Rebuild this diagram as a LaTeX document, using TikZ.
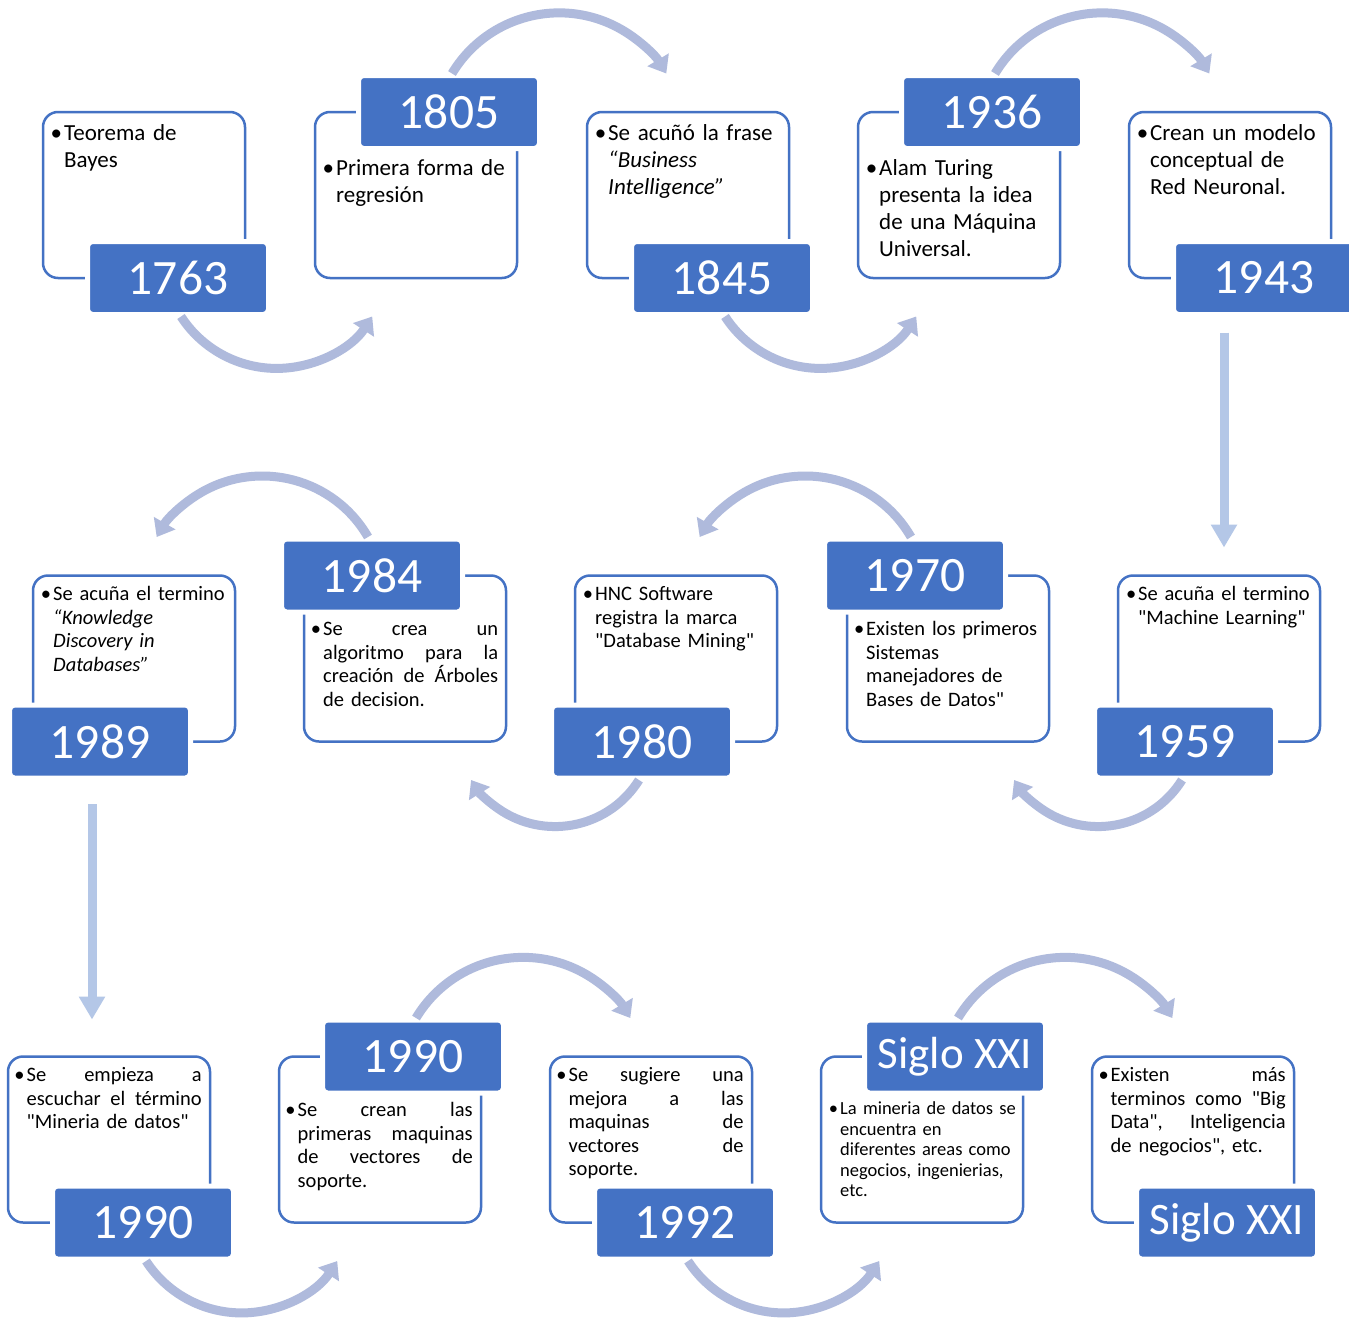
\documentclass[tikz,border=0pt]{standalone}
\usepackage{fontspec}
\setmainfont{Carlito}[Ligatures=TeXOff]
\usetikzlibrary{arrows.meta,calc}

\definecolor{azul}{HTML}{4472C4}
\definecolor{arco}{HTML}{AFBADC}
\definecolor{celeste}{HTML}{B4C7E7}

% viñeta y linea justificada
\newcommand{\bul}{\strut\llap{\textbullet\hspace{2pt}}}
\newcommand{\jl}[1]{\makebox[175pt][s]{\spaceskip=\fontdimen2\font plus 1fil\relax #1}}

\begin{document}
\begin{tikzpicture}[x=1pt,y=-1pt,
    caja/.style={draw=azul, line width=2.5pt, rounded corners=15pt, minimum width=202pt, minimum height=166pt, inner sep=0pt, outer sep=0pt},
    anio/.style={fill=azul, draw=white, line width=5pt, rounded corners=5pt, minimum width=181pt, minimum height=73pt, inner sep=0pt, outer sep=0pt, text=white, font=\fontsize{49.5}{52}\selectfont},
    txt/.style={anchor=north west, inner sep=0pt, text width=186pt, align=left},
    uno/.style={txt, font=\fontsize{23}{27}\selectfont},
    dos/.style={txt, font=\fontsize{20.5}{23.5}\selectfont},
    flujo/.style={draw=arco, line width=9pt, -{Triangle[width=24pt,length=16pt]}},
    bajada/.style={draw=celeste, line width=9pt, -{Triangle[width=25pt,length=23pt]}}]

    \path[use as bounding box, fill=white] (0,0) rectangle (1349,1320);

    % Fila 1
    \node[caja] (b1763) at (144,195) {};
    \node[caja] (b1805) at (416,195) {};
    \node[caja] (b1845) at (688,195) {};
    \node[caja] (b1936) at (959,195) {};
    \node[caja] (b1943) at (1230,195) {};
    \node[anio] (y1763) at ([xshift=34]b1763.south) {1763};
    \node[anio] (y1805) at ([xshift=33]b1805.north) {1805};
    \node[anio] (y1845) at ([xshift=34]b1845.south) {1845};
    \node[anio] (y1936) at ([xshift=33]b1936.north) {1936};
    \node[anio] (y1943) at ([xshift=34]b1943.south) {1943};
    \node[uno] (t1763) at ([shift={(21,9)}]b1763.north west) {\bul Teorema de\\Bayes};
    \node[uno] (t1805) at ([shift={(21,44)}]b1805.north west) {\bul Primera forma de\\regresión};
    \node[uno] (t1845) at ([shift={(21,9)}]b1845.north west) {\bul Se acuñó la frase\\\textit{“Business}\\\textit{Intelligence”}};
    \node[uno] (t1936) at ([shift={(21,44)}]b1936.north west) {\bul Alam Turing\\presenta la idea\\de una Máquina\\Universal.};
    \node[uno] (t1943) at ([shift={(21,9)}]b1943.north west) {\bul Crean un modelo\\conceptual de\\Red Neuronal.};

    % Fila 2
    \node[caja] (b1989) at (134,658.5) {};
    \node[caja] (b1984) at (405,658.5) {};
    \node[caja] (b1980) at (676,658.5) {};
    \node[caja] (b1970) at (948,658.5) {};
    \node[caja] (b1959) at (1219,658.5) {};
    \node[anio] (y1989) at ([xshift=-34]b1989.south) {1989};
    \node[anio] (y1984) at ([xshift=-33]b1984.north) {1984};
    \node[anio] (y1980) at ([xshift=-34]b1980.south) {1980};
    \node[anio] (y1970) at ([xshift=-33]b1970.north) {1970};
    \node[anio] (y1959) at ([xshift=-34]b1959.south) {1959};
    \node[dos] (t1989) at ([shift={(20,8.5)}]b1989.north west) {\bul Se acuña el termino\\\textit{“Knowledge}\\\textit{Discovery in}\\\textit{Databases”}};
    \node[dos] (t1984) at ([shift={(19,43.5)}]b1984.north west) {\bul\jl{Se crea un}\\\jl{algoritmo para la}\\\jl{creación de Árboles}\\de decision.};
    \node[dos] (t1980) at ([shift={(20,8.5)}]b1980.north west) {\bul HNC Software\\registra la marca\\"Database Mining"};
    \node[dos] (t1970) at ([shift={(19,43.5)}]b1970.north west) {\bul Existen los primeros\\Sistemas\\manejadores de\\Bases de Datos"};
    \node[dos] (t1959) at ([shift={(20,8.5)}]b1959.north west) {\bul Se acuña el termino\\"Machine Learning"};

    % Fila 3
    \node[caja] (b1990a) at (109,1139.5) {};
    \node[caja] (b1990b) at (380,1139.5) {};
    \node[caja] (b1992) at (651,1139.5) {};
    \node[caja] (bsigloa) at (922,1139.5) {};
    \node[caja] (bsiglob) at (1193,1139.5) {};
    \node[anio] (y1990a) at ([xshift=34]b1990a.south) {1990};
    \node[anio] (y1990b) at ([xshift=33]b1990b.north) {1990};
    \node[anio] (y1992) at ([xshift=34]b1992.south) {1992};
    \node[anio, font=\fontsize{45}{48}\selectfont] (ysigloa) at ([xshift=33]bsigloa.north) {Siglo XXI};
    \node[anio, font=\fontsize{45}{48}\selectfont] (ysiglob) at ([xshift=34]bsiglob.south) {Siglo XXI};
    \node[dos] (t1990a) at ([shift={(18.5,8.5)}]b1990a.north west) {\bul\jl{Se empieza a}\\\jl{escuchar el término}\\"Mineria de datos"};
    \node[dos] (t1990b) at ([shift={(18.5,43.5)}]b1990b.north west) {\bul\jl{Se crean las}\\\jl{primeras maquinas}\\\jl{de vectores de}\\soporte.};
    \node[dos] (t1992) at ([shift={(18.5,8.5)}]b1992.north west) {\bul\jl{Se sugiere una}\\\jl{mejora a las}\\\jl{maquinas de}\\\jl{vectores de}\\soporte.};
    \node[txt, font=\fontsize{18.5}{20.5}\selectfont] (tsigloa) at ([shift={(19,43.5)}]bsigloa.north west) {\bul La mineria de datos se\\encuentra en\\diferentes areas como\\negocios, ingenierias,\\etc.};
    \node[dos] (tsiglob) at ([shift={(18.5,8.5)}]bsiglob.north west) {\bul\jl{Existen más}\\\jl{terminos como "Big}\\\jl{Data", Inteligencia}\\de negocios", etc.};

    % Flechas curvas
    \draw[flujo] ([shift={(3,2)}]y1763.south) arc[start angle=147, end angle=33, radius=114];
    \draw[flujo] ([shift={(3,-2)}]y1805.north) arc[start angle=211, end angle=329, radius=125];
    \draw[flujo] ([shift={(3,2)}]y1845.south) arc[start angle=147, end angle=33, radius=114];
    \draw[flujo] ([shift={(3,-2)}]y1936.north) arc[start angle=211, end angle=329, radius=125];
    \draw[flujo] ([shift={(-4,-2)}]y1984.north) arc[start angle=330, end angle=210, radius=122];
    \draw[flujo] ([shift={(-3,2)}]y1980.south) arc[start angle=32, end angle=148, radius=99];
    \draw[flujo] ([shift={(-4,-2)}]y1970.north) arc[start angle=330, end angle=210, radius=122];
    \draw[flujo] ([shift={(-3,2)}]y1959.south) arc[start angle=32, end angle=148, radius=99];
    \draw[flujo] ([shift={(3,2)}]y1990a.south) arc[start angle=147, end angle=33, radius=114];
    \draw[flujo] ([shift={(3,-2)}]y1990b.north) arc[start angle=211, end angle=329, radius=125];
    \draw[flujo] ([shift={(3,2)}]y1992.south) arc[start angle=147, end angle=33, radius=114];
    \draw[flujo] ([shift={(3,-2)}]ysigloa.north) arc[start angle=211, end angle=329, radius=125];

    % Flechas entre filas
    \draw[bajada] ($(b1959.north |- y1943.south)+(5,18)$) -- ($(b1959.north)+(5,-28)$);
    \draw[bajada] ($(y1989.south)+(-8,26)$) -- ($(b1990a.north -| y1989.south)+(-8,-37)$);
\end{tikzpicture}
\end{document}
